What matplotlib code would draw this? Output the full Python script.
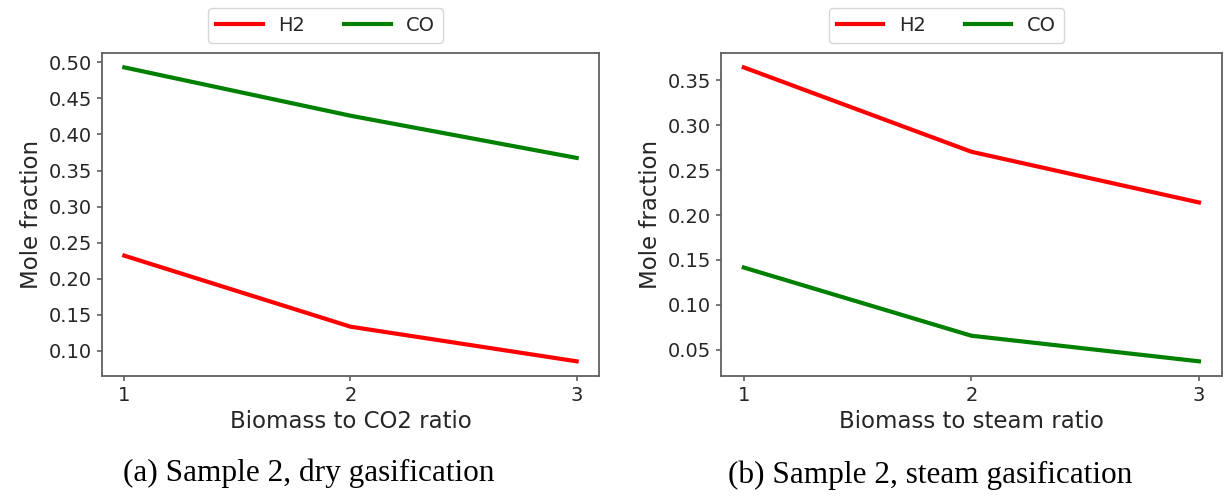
import matplotlib
matplotlib.use("Agg")
import matplotlib.pyplot as plt
from matplotlib.ticker import MultipleLocator, FormatStrFormatter

# biomass ratio on the x axis
ratio = [1, 2, 3]

# dry gasification (CO2 as agent)
dry_h2 = [0.232, 0.1335, 0.0855]
dry_co = [0.493, 0.426, 0.3675]

# steam gasification
steam_h2 = [0.3645, 0.2705, 0.214]
steam_co = [0.1415, 0.0655, 0.037]

x_labels = ["Biomass to CO2 ratio", "Biomass to steam ratio"]
captions = ["(a) Sample 2, dry gasification", "(b) Sample 2, steam gasification"]

texto = "#262626"
borde = "#606060"

fig = plt.figure(figsize=(12.25, 4.99), dpi=100)
ax1 = fig.add_axes([0.0830, 0.2465, 0.4062, 0.6479])
ax2 = fig.add_axes([0.5886, 0.2465, 0.4087, 0.6479])

series = [(dry_h2, dry_co), (steam_h2, steam_co)]

for ax, (h2, co), xl in zip([ax1, ax2], series, x_labels):
    ax.plot(ratio, h2, color="red", lw=3, label="H2")
    ax.plot(ratio, co, color="green", lw=3, label="CO")
    ax.set_xticks(ratio)
    ax.yaxis.set_major_locator(MultipleLocator(0.05))
    ax.yaxis.set_major_formatter(FormatStrFormatter("%.2f"))
    ax.set_xlabel(xl, fontsize=16.5, color=texto)
    ax.set_ylabel("Mole fraction", fontsize=16.5, color=texto)
    ax.tick_params(labelsize=14, colors=borde, labelcolor=texto, width=1.2)
    for s in ax.spines.values():
        s.set_color(borde)
        s.set_linewidth(1.3)
    leg = ax.legend(loc="lower center", bbox_to_anchor=(0.45, 1.0), ncol=2,
                    fontsize=14, handlelength=2.4, frameon=True)
    for t in leg.get_texts():
        t.set_color(texto)

# subfigure captions
fig.text(0.252, 0.052, captions[0], ha="center", va="center",
         fontsize=22.5, family="Liberation Serif", color="black")
fig.text(0.759, 0.048, captions[1], ha="center", va="center",
         fontsize=22.5, family="Liberation Serif", color="black")

fig.savefig("out.png", dpi=100)
